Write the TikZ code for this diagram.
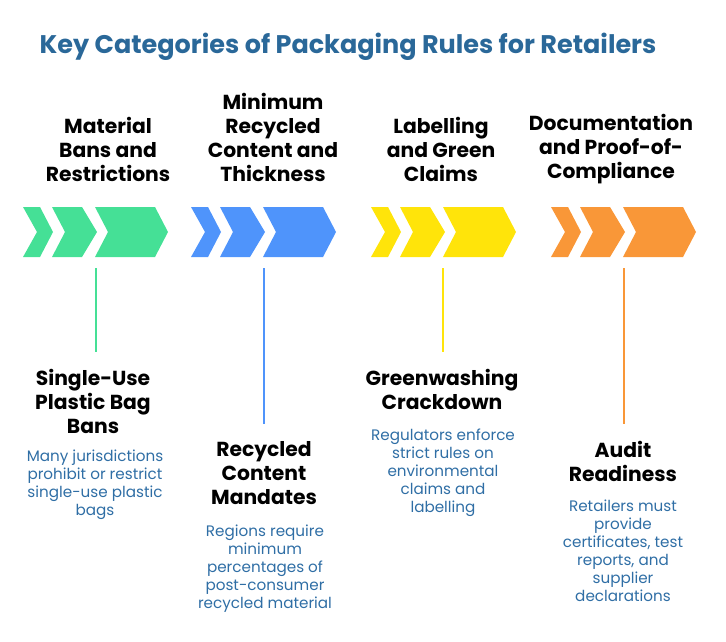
\documentclass[tikz,border=0pt]{standalone}
\usepackage{fontspec}
\setmainfont{Poppins}
\begin{document}
\begin{tikzpicture}[x=1pt,y=-1pt,
  head/.style={align=center,font=\fontsize{20.3}{24}\selectfont\bfseries,text=black,inner sep=0},
  desc/.style={align=center,font=\fontsize{15.2}{18}\selectfont,text=descc,inner sep=0},
  conn/.style={line width=1.3pt}]
\definecolor{descc}{HTML}{2F6EA5}
\definecolor{titlec}{HTML}{2A6899}
\definecolor{cg}{HTML}{45E096}
\definecolor{cb}{HTML}{4F94FB}
\definecolor{cy}{HTML}{FFE40A}
\definecolor{co}{HTML}{F99738}
\useasboundingbox (0,0) rectangle (726,642);
\node[font=\fontsize{25.5}{30}\selectfont\bfseries,text=titlec] (title) at (348,47) {Key Categories of Packaging Rules for Retailers};
\newcommand{\chevgroup}[2]{%
 \begin{scope}[shift={(#1,0)}]
 \fill[#2] (0,207)--(17,207)--(30,232)--(17,257)--(0,257)--(14,232)--cycle;
 \fill[#2] (29,207)--(59,207)--(74,232)--(59,257)--(29,257)--(42,232)--cycle;
 \fill[#2] (72,207)--(132,207)--(145,232)--(132,257)--(72,257)--(85,232)--cycle;
 \end{scope}}
\chevgroup{23}{cg}
\chevgroup{191}{cb}
\chevgroup{371}{cy}
\chevgroup{551}{co}
\node[head] (h1) at (108,149) {Material\\Bans and\\Restrictions};
\node[head] (h2) at (273,137) {Minimum\\Recycled\\Content and\\Thickness};
\node[head] (h3) at (441,149) {Labelling\\and Green\\Claims};
\node[head] (h4) at (611,149) {Documentation\\and Proof-of-\\Compliance};
\coordinate (a1) at (96,268); \coordinate (b1) at (96,352);
\coordinate (a2) at (264,268); \coordinate (b2) at (264,424);
\coordinate (a3) at (443,268); \coordinate (b3) at (443,352);
\coordinate (a4) at (624,268); \coordinate (b4) at (624,424);
\draw[conn,cg] (a1)--(b1);
\draw[conn,cb] (a2)--(b2);
\draw[conn,cy] (a3)--(b3);
\draw[conn,co] (a4)--(b4);
\node[head] (s1) at (93,401) {Single-Use\\Plastic Bag\\Bans};
\node[desc] (d1) at (95,485) {Many jurisdictions\\prohibit or restrict\\single-use plastic\\bags};
\node[head] (s2) at (264,473) {Recycled\\Content\\Mandates};
\node[desc] (d2) at (265,569) {Regions require\\minimum\\percentages of\\post-consumer\\recycled material};
\node[head] (s3) at (442,389.5) {Greenwashing\\Crackdown};
\node[desc] (d3) at (443,473) {Regulators enforce\\strict rules on\\environmental\\claims and\\labelling};
\node[head] (s4) at (623,461) {Audit\\Readiness};
\node[desc] (d4) at (623,551) {Retailers must\\provide\\certificates, test\\reports, and\\supplier\\declarations};
\end{tikzpicture}
\end{document}
